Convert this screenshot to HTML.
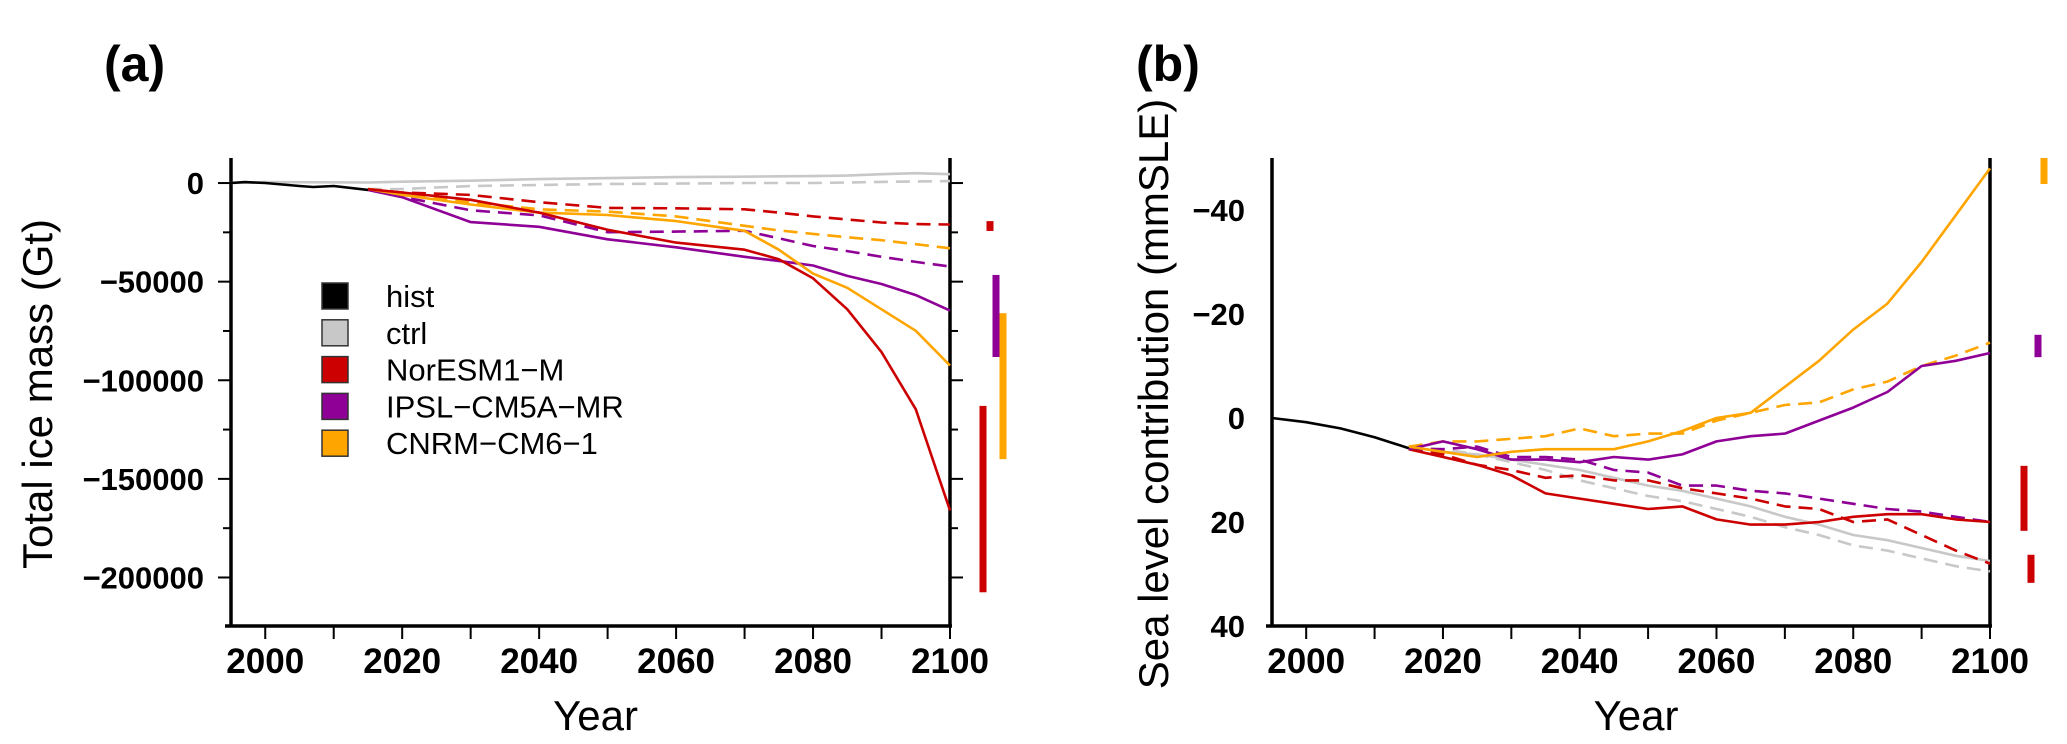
<!DOCTYPE html>
<html><head><meta charset="utf-8"><style>
html,body{margin:0;padding:0;background:#fff;}
svg{display:block;font-family:"Liberation Sans",sans-serif;}
</style></head><body>
<svg id="chart" width="2067" height="744" viewBox="0 0 2067 744"></svg>
<script>
// Panel a (Gt)
const aHistYears=[1995,1997,2000,2005,2007,2010,2015];
const aHist=[0,500,0,-1500,-2000,-1500,-3500];
const aYears=[2015,2020,2030,2040,2050,2060,2070,2075,2080,2085,2090,2095,2100];
const aCtrl=[300,700,1200,2000,2500,3000,3200,3400,3500,3800,4500,5000,4500];
const aCtrlD=[-3000,-3000,-1500,-1000,-500,-300,0,0,0,300,600,800,1000];
const aNor=[-3100,-4800,-8500,-15000,-23700,-30200,-33800,-38600,-48300,-64000,-85700,-114700,-166000];
const aNorD=[-3100,-4800,-6000,-9700,-12600,-12800,-13300,-15000,-16900,-18500,-20000,-20800,-21000];
const aIpsl=[-3500,-7200,-19800,-22200,-28500,-32600,-37400,-39500,-41800,-47100,-51200,-56800,-64700];
const aIpslD=[-3500,-7000,-13800,-16400,-24900,-24600,-24200,-28000,-31900,-34500,-37400,-40000,-42300];
const aCnrm=[-3000,-6000,-10900,-15000,-16200,-19300,-24200,-33800,-45900,-53100,-64000,-74900,-92500];
const aCnrmD=[-3000,-5000,-9700,-13300,-14500,-16900,-21700,-24000,-25800,-27500,-29000,-31000,-33100];
const aTicks=[0,-50000,-100000,-150000,-200000];
const aBars=[{lo:-19300,hi:-24300,c:"#cc0000",x:990},{lo:-46600,hi:-88200,c:"#8e0096",x:996},{lo:-66000,hi:-140000,c:"#ffa500",x:1003},{lo:-113000,hi:-207500,c:"#cc0000",x:983}];
// Panel b (mmSLE)
const bHistYears=[1995,2000,2005,2010,2015];
const bHist=[0,0.8,2,3.7,5.8];
const bYears=[2015,2020,2025,2030,2035,2040,2045,2050,2055,2060,2065,2070,2075,2080,2085,2090,2095,2100];
const bCtrl=[5.5,6.5,7,8,9,10,11.5,13,14,15.5,17,19,20.5,22.5,23.5,25,26.5,27.5];
const bCtrlD=[5.5,6,7,8.5,10,12,13.5,15,16,17.5,19,21,22.5,24.5,25.5,27,28.5,29.5];
const bNor=[6,7.5,9,11,14.5,15.5,16.5,17.5,17,19.5,20.5,20.5,20,19,18.5,18.5,19.5,20];
const bNorD=[6,7,9,10,11.5,11,12,12,13.5,14.5,15.5,17,17.5,20,19.5,22.5,25.5,28];
const bIpsl=[6,4.5,6,8,8,8.5,7.5,8,7,4.5,3.5,3,0.5,-2,-5,-10,-11,-12.5];
const bIpslD=[6,6,5.5,7.5,7.5,8,10,10.5,13,13,14,14.5,15.5,16.5,17.5,18,19,20];
const bCnrm=[5.5,6.5,7.5,6.5,6,6,6,4.5,2.5,0,-1,-6,-11,-17,-22,-30,-39,-48];
const bCnrmD=[5.5,4.5,4.5,4,3.5,2,3.5,3,3,0.5,-1,-2.5,-3,-5.5,-7,-10,-12,-14.5];
const bTicks=[-40,-20,0,20,40];
const bBars=[{lo:-50,hi:-45,c:"#ffa500",x:2044},{lo:-16,hi:-11.7,c:"#8e0096",x:2038},{lo:9.2,hi:21.7,c:"#cc0000",x:2024},{lo:26.3,hi:31.7,c:"#cc0000",x:2031}];
const xTicks=[2000,2020,2040,2060,2080,2100];

const NS="http://www.w3.org/2000/svg";
const svg=document.getElementById('chart');
function mk(tag,attrs,parent){const e=document.createElementNS(NS,tag);for(const k in attrs)e.setAttribute(k,attrs[k]);(parent||svg).appendChild(e);return e;}
function txt(s,attrs,parent){const e=mk('text',attrs,parent);e.textContent=s;return e;}

function panel(P){
  const g=mk('g',{});
  
  
  const X=y=>P.x0+(y-1995)/(2100-1995)*(P.x1-P.x0);
  const Y=v=>P.yTop+(P.vTop-v)/(P.vTop-P.vBot)*(P.yBot-P.yTop);
  const ax=mk('path',{d:`M${P.x0} ${P.yTop}V${P.yBot}M${P.x0-6} ${P.yBot}H${P.x1+2}M${P.x1} ${P.yTop}V${P.yBot}`,stroke:'#000','stroke-width':3.5,fill:'none'},g);
  
  for(let v=P.minorStart;v>=P.vBot;v-=P.minor){
    const yy=Y(v);const maj=P.ticks.includes(v);
    mk('line',{x1:P.x0-(maj?13:8),x2:P.x0,y1:yy,y2:yy,stroke:'#000','stroke-width':2},g);
    mk('line',{x1:P.x1,x2:P.x1+(maj?13:8),y1:yy,y2:yy,stroke:'#000','stroke-width':2},g);
  }
  P.ticks.forEach(v=>{
    const s=(v<0?'\u2212':'')+Math.abs(v);
    const t=txt(s,{x:P.x0-27,y:Y(v)+11,'text-anchor':'end','font-size':31,'font-weight':'bold'},g);
    
  });
  for(let yr=2000;yr<=2100;yr+=10){
    mk('line',{x1:X(yr),x2:X(yr),y1:P.yBot,y2:P.yBot+13,stroke:'#000','stroke-width':2},g);
  }
  xTicks.forEach(yr=>{
    const t=txt(String(yr),{x:X(yr),y:P.yBot+47,'text-anchor':'middle','font-size':35,'font-weight':'bold'},g);
    
  });
  const xt=txt('Year',{x:(P.x0+P.x1)/2+5,y:730,'text-anchor':'middle','font-size':42},g);
  
  const yt=txt(P.ytitle,{x:0,y:0,'text-anchor':'middle','font-size':42,transform:`translate(${P.ytx},${P.yty}) rotate(-90)`},g);
  
  const pl=txt(P.label,{x:P.lx,y:81,'font-size':50,'font-weight':'bold'},g);
  
  P.series.forEach(s=>{
    const d=s.xs.map((yr,i)=>(i?'L':'M')+X(yr).toFixed(1)+' '+Y(s.v[i]).toFixed(1)).join('');
    const p=mk('path',{d,stroke:s.c,'stroke-width':2.6,fill:'none','stroke-dasharray':s.dash?'14 8':'none','stroke-linejoin':'round'},g);
    
    
  });
  P.bars.forEach(b=>{
    const r=mk('rect',{x:b.x-3.5,y:Math.min(Y(b.lo),Y(b.hi)),width:7,height:Math.abs(Y(b.lo)-Y(b.hi)),fill:b.c},g);
    
    
  });
  return g;
}
const C={h:'#000',c:'#c8c8c8',r:'#cc0000',p:'#8e0096',o:'#ffa500'};
panel({name:'panel-a',x0:231,x1:950,yTop:158,yBot:626,vTop:12700,vBot:-224600,ticks:aTicks,minor:25000,minorStart:0,
  ytitle:'Total ice mass (Gt)',ytx:52,yty:394,label:'(a)',lx:104,bars:aBars,
  series:[{n:'ctrl-line',xs:[1995,2000].concat(aYears),v:[0,500].concat(aCtrl),c:C.c},{n:'ctrl-dashed-line',xs:aYears,v:aCtrlD,c:C.c,dash:1},
  {n:'noresm-dashed-line',xs:aYears,v:aNorD,c:C.r,dash:1},{n:'ipsl-dashed-line',xs:aYears,v:aIpslD,c:C.p,dash:1},{n:'cnrm-dashed-line',xs:aYears,v:aCnrmD,c:C.o,dash:1},
  {n:'ipsl-line',xs:aYears,v:aIpsl,c:C.p},{n:'cnrm-line',xs:aYears,v:aCnrm,c:C.o},{n:'noresm-line',xs:aYears,v:aNor,c:C.r},
  {n:'hist-line',xs:aHistYears,v:aHist,c:C.h}]});
panel({name:'panel-b',x0:1272,x1:1990,yTop:158,yBot:626,vTop:-50,vBot:40,ticks:bTicks,minor:10,minorStart:-40,
  ytitle:'Sea level contribution (mmSLE)',ytx:1168,yty:394,label:'(b)',lx:1136,bars:bBars,
  series:[{n:'ctrl-line',xs:bYears,v:bCtrl,c:C.c},{n:'ctrl-dashed-line',xs:bYears,v:bCtrlD,c:C.c,dash:1},
  {n:'noresm-dashed-line',xs:bYears,v:bNorD,c:C.r,dash:1},{n:'ipsl-dashed-line',xs:bYears,v:bIpslD,c:C.p,dash:1},{n:'cnrm-dashed-line',xs:bYears,v:bCnrmD,c:C.o,dash:1},
  {n:'noresm-line',xs:bYears,v:bNor,c:C.r},{n:'ipsl-line',xs:bYears,v:bIpsl,c:C.p},{n:'cnrm-line',xs:bYears,v:bCnrm,c:C.o},
  {n:'hist-line',xs:bHistYears,v:bHist,c:C.h}]});
const legNames=['hist','ctrl','NorESM1\u2212M','IPSL\u2212CM5A\u2212MR','CNRM\u2212CM6\u22121'];
const legCols=[C.h,C.c,C.r,C.p,C.o];
const lg=mk('g',{});


legNames.forEach((n,i)=>{
  const y=283+i*36.8;
  const r=mk('rect',{x:322,y:y,width:26,height:26,fill:legCols[i],stroke:'#333','stroke-width':1.5},lg);
  
  
  const t=txt(n,{x:386,y:y+24,'font-size':31},lg);
  
  
});
</script>
</body></html>
